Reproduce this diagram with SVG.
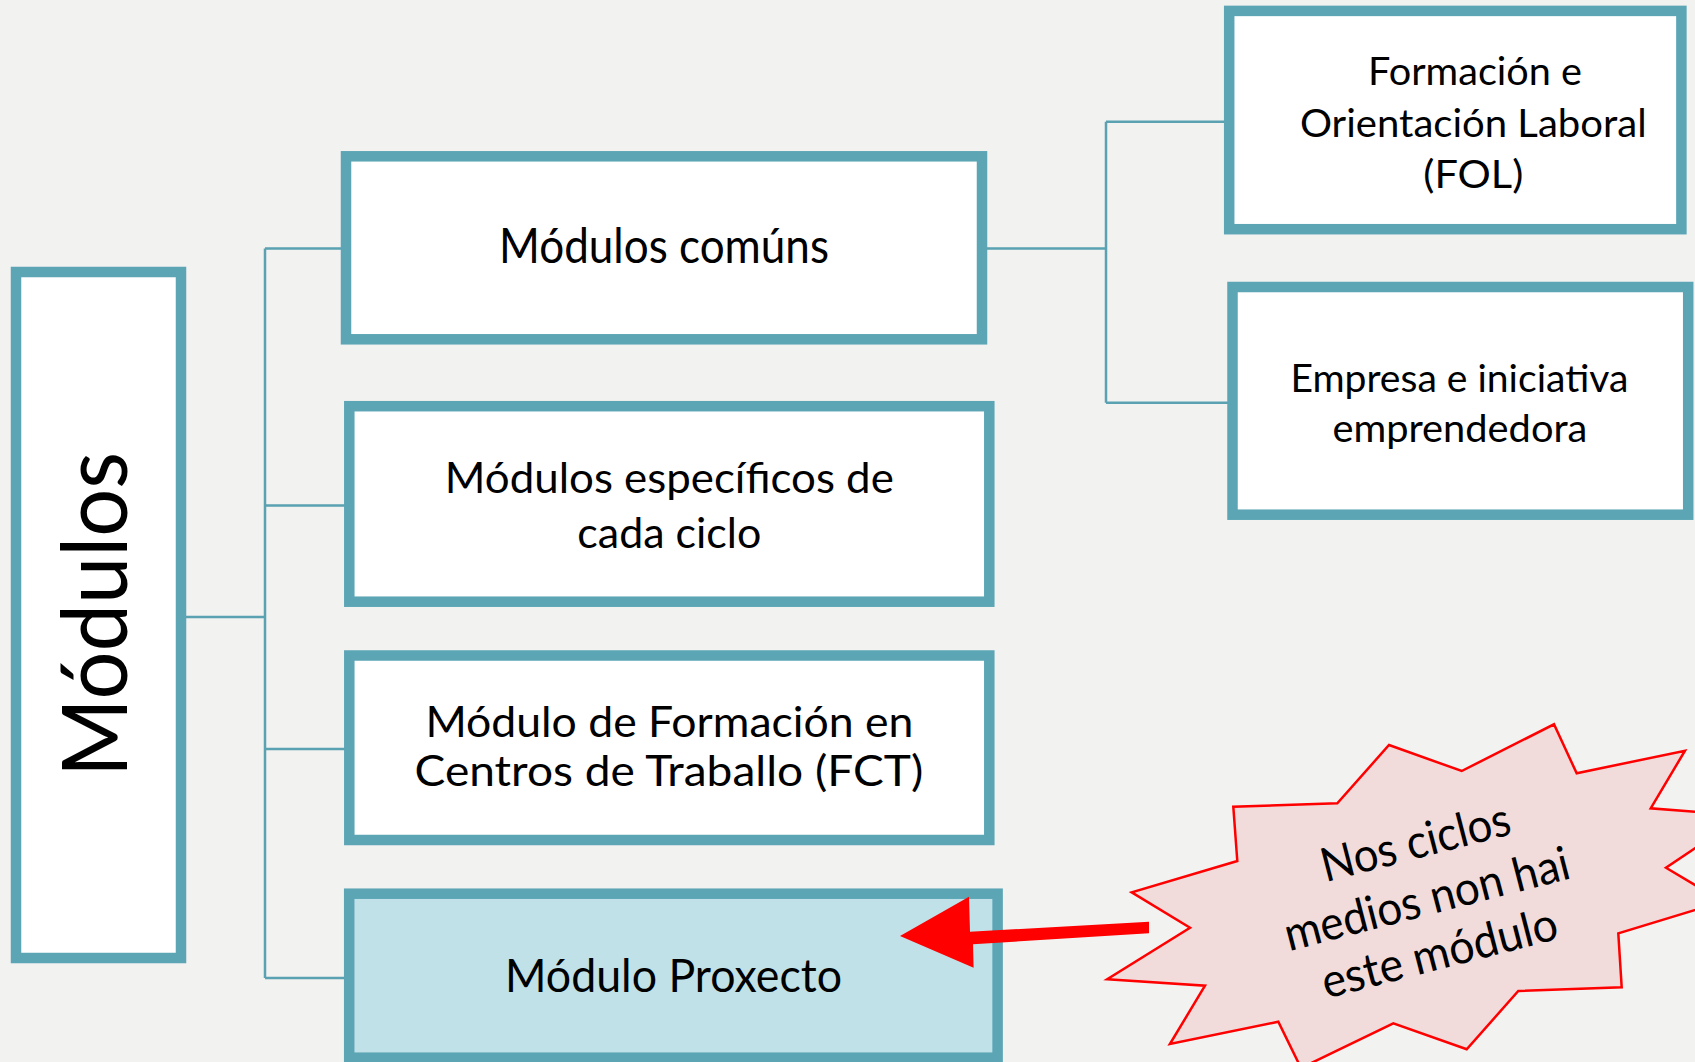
<svg xmlns="http://www.w3.org/2000/svg" width="1695" height="1062" viewBox="0 0 1695 1062">
<style>
.box{fill:#ffffff;stroke:#5ba5b5;stroke-width:10.5}
.hl{fill:#bfe1e7}
.conn{fill:none;stroke:#5aa1b1;stroke-width:2.5}
.t{font-family:Lato,"Open Sans",sans-serif;fill:#000;text-anchor:middle}
.star{fill:#f2dcdb;stroke:#ff0000;stroke-width:2.5;stroke-linejoin:miter}
</style>
<rect width="1695" height="1062" fill="#f2f2f1"/>
<g id="connectors">
<path class="conn" d="M186 617H265M265 248.5V978M265 248.5H342M265 505.5H345M265 749H345M265 978H345"/>
<path class="conn" d="M986 248.5H1106M1106 121.7V402.7M1106 121.7H1225M1106 402.7H1228"/>
</g>
<g id="n-modulos">
<rect class="box" x="16" y="272" width="165" height="686"/>
<text class="t" font-size="92" textLength="325" lengthAdjust="spacingAndGlyphs" transform="translate(127,614.5) rotate(-90)">Módulos</text>
</g>
<g id="n-comuns">
<rect class="box" x="346" y="156.3" width="636" height="183"/>
<text class="t" x="664" y="262.7" font-size="48" textLength="330" lengthAdjust="spacingAndGlyphs">Módulos comúns</text>
</g>
<g id="n-especificos">
<rect class="box" x="349.3" y="406.2" width="640" height="195.5"/>
<text class="t" x="669.3" y="492.7" font-size="43" textLength="449" lengthAdjust="spacingAndGlyphs">Módulos específicos de</text>
<text class="t" x="669.3" y="548.3" font-size="43" textLength="184" lengthAdjust="spacingAndGlyphs">cada ciclo</text>
</g>
<g id="n-fct">
<rect class="box" x="349.3" y="655.5" width="640" height="184.5"/>
<text class="t" x="669.4" y="736.7" font-size="42" textLength="488" lengthAdjust="spacingAndGlyphs">Módulo de Formación en</text>
<text class="t" x="668.9" y="786" font-size="42" textLength="508.6" lengthAdjust="spacingAndGlyphs">Centros de Traballo (FCT)</text>
</g>
<g id="n-proxecto">
<rect class="box hl" x="349.2" y="893.7" width="648.4" height="164"/>
<text class="t" x="673.5" y="991.7" font-size="46.5" textLength="337" lengthAdjust="spacingAndGlyphs">Módulo Proxecto</text>
</g>
<g id="n-fol">
<rect class="box" x="1229.2" y="10.9" width="452.2" height="218.3"/>
<text class="t" x="1475" y="85" font-size="38" textLength="214" lengthAdjust="spacingAndGlyphs">Formación e</text>
<text class="t" x="1473.3" y="136.7" font-size="38" textLength="346.7" lengthAdjust="spacingAndGlyphs">Orientación Laboral</text>
<text class="t" x="1473.3" y="188.3" font-size="38" textLength="100" lengthAdjust="spacingAndGlyphs">(FOL)</text>
</g>
<g id="n-empresa">
<rect class="box" x="1232.5" y="287" width="455.7" height="227.7"/>
<text class="t" x="1459.4" y="391.7" font-size="39.5" textLength="338" lengthAdjust="spacingAndGlyphs">Empresa e iniciativa</text>
<text class="t" x="1459.9" y="441.7" font-size="39.5" textLength="255" lengthAdjust="spacingAndGlyphs">emprendedora</text>
</g>
<g id="arrow">
<polygon fill="#ff0000" points="1149,921.7 970,931.7 969,896.7 900,936 973.6,967.7 973,944.3 1149,933.3"/>
</g>
<g id="callout">
<polygon class="star" points="1389,745 1461.7,771 1554,724.3 1576.7,773.3 1685,750.7 1650.7,808.3 1744,815.5 1666,867.7 1722.7,901.5 1618.3,933.3 1621.7,987.3 1518.3,991 1466.7,1049.3 1393.3,1023.3 1301,1068 1278.3,1021.7 1169.9,1044 1205,985.7 1107.2,979.3 1190,927.7 1131.7,892.3 1237.3,861 1233.3,806.7 1337.3,803.3"/>
<text class="t" x="1419.5" y="858" font-size="47" textLength="194" lengthAdjust="spacingAndGlyphs" transform="rotate(-14.5 1419.5 858)">Nos ciclos</text>
<text class="t" x="1430.8" y="914.5" font-size="47" textLength="293" lengthAdjust="spacingAndGlyphs" transform="rotate(-14.5 1430.8 914.5)">medios non hai</text>
<text class="t" x="1443.3" y="968.5" font-size="47" textLength="242" lengthAdjust="spacingAndGlyphs" transform="rotate(-14.5 1443.3 968.5)">este módulo</text>
</g>
</svg>
